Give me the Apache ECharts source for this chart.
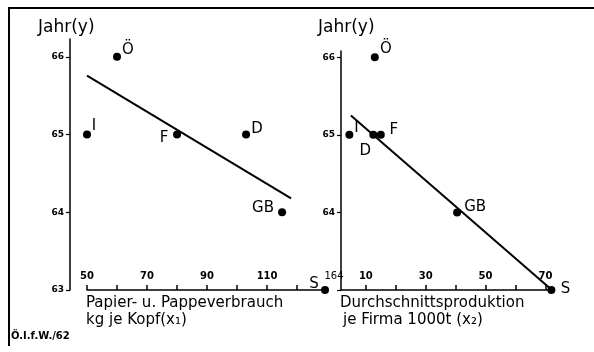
<!DOCTYPE html>
<html>
<head>
<meta charset="utf-8">
<script src="https://cdn.jsdelivr.net/npm/echarts@6/dist/echarts.min.js"></script>
<style>html,body{margin:0;padding:0;background:#fff}#c{width:594px;height:352px}</style>
</head>
<body>
<div id="c"></div>
<script>
// ---- data ----
const countries = ['Ö', 'I', 'F', 'D', 'GB', 'S'];
const years = [66, 65, 65, 65, 64, 63];                 // Jahr (y)
const paperPerHead = [60, 50, 80, 103, 115, 164];      // x1: kg je Kopf
const avgProduction = [13, 4.5, 15, 12.5, 40.5, 72];   // x2: 1000 t je Firma
const x1Ticks = [50, 60, 70, 80, 90, 100, 110, 120];
const x1TickLabels = [50, 70, 90, 110];
const x2Ticks = [10, 20, 30, 40, 50, 60, 70];
const x2TickLabels = [10, 30, 50, 70];
const yTicks = [63, 64, 65, 66];
const yTickLabelsLeft = [63, 64, 65, 66];
const yTickLabelsRight = [64, 65, 66];
const fitLineX1 = [[50, 65.76], [118, 64.18]];
const fitLineX2 = [[5, 65.25], [71.3, 63.03]];
const x1AxisMax = 129.3; // off-scale values are drawn at the axis end

// ---- styles ----
const FONT = 'DejaVu Sans';
const offsX1 = {'Ö':[11,-7], 'I':[7,-8], 'F':[-13,4], 'D':[11,-5], 'GB':[-19,-4], 'S':[-11,-6]};
const offsX2 = {'Ö':[11,-8], 'I':[7,-7], 'F':[13,-5], 'D':[-8,16], 'GB':[18,-5], 'S':[14,-1]};

function pts(xs, clampMax, offs) {
  return countries.map((c, i) => ({
    value: [Math.min(xs[i], clampMax), years[i]],
    label: {
      show: true, position: 'inside', formatter: c, offset: offs[c],
      color: '#000', fontFamily: FONT, fontSize: 15
    }
  }));
}
const offScale = countries.map((c, i) => i).filter(i => paperPerHead[i] > x1AxisMax);

function xAxisCfg(idx, min, max, ticks, labels) {
  return {
    type: 'value', gridIndex: idx, min: min, max: max,
    splitLine: {show: false},
    axisLine: {show: true, onZero: false, lineStyle: {color: '#000', width: 1.5}},
    axisTick: {show: true, inside: true, length: 5, customValues: ticks, lineStyle: {color: '#000', width: 1.5}},
    axisLabel: {inside: true, margin: 9, customValues: labels, color: '#000',
      fontFamily: FONT, fontSize: 10, fontWeight: 'bold'}
  };
}
function yAxisCfg(idx, max, offset, labels) {
  return {
    type: 'value', gridIndex: idx, min: 63, max: max, offset: offset,
    splitLine: {show: false},
    axisLine: {show: true, onZero: false, lineStyle: {color: '#000', width: 1.5}},
    axisTick: {show: true, length: 4, customValues: yTicks, lineStyle: {color: '#000', width: 1.2}},
    axisLabel: {margin: 6, customValues: labels, color: '#000',
      fontFamily: FONT, fontSize: 9, fontWeight: 'bold'}
  };
}

const chart = echarts.init(document.getElementById('c'), null, {renderer: 'canvas'});
chart.setOption({
  animation: false,
  backgroundColor: '#fff',
  grid: [
    {left: 87, top: 39, width: 238, height: 251},
    {left: 341, top: 51, width: 211, height: 239}
  ],
  xAxis: [
    xAxisCfg(0, 50, x1AxisMax, x1Ticks, x1TickLabels),
    xAxisCfg(1, 1.7, 72.2, x2Ticks, x2TickLabels)
  ],
  yAxis: [
    yAxisCfg(0, 66.23, 17, yTickLabelsLeft),
    yAxisCfg(1, 66.08, 0, yTickLabelsRight)
  ],
  series: [
    {type: 'line', xAxisIndex: 0, yAxisIndex: 0, data: fitLineX1, symbol: 'none',
      lineStyle: {color: '#000', width: 2}},
    {type: 'line', xAxisIndex: 1, yAxisIndex: 1, data: fitLineX2, symbol: 'none',
      lineStyle: {color: '#000', width: 2}},
    {type: 'scatter', xAxisIndex: 0, yAxisIndex: 0, symbolSize: 8, z: 5, clip: false,
      itemStyle: {color: '#000', opacity: 1}, data: pts(paperPerHead, x1AxisMax, offsX1)},
    {type: 'scatter', xAxisIndex: 0, yAxisIndex: 0, symbolSize: 1, z: 5, clip: false,
      itemStyle: {color: '#000', opacity: 1},
      data: offScale.map(i => ({
        value: [x1AxisMax, years[i]],
        label: {show: true, position: 'inside', formatter: String(paperPerHead[i]),
          offset: [9, -14], color: '#000', fontFamily: FONT, fontSize: 10}
      }))},
    {type: 'scatter', xAxisIndex: 1, yAxisIndex: 1, symbolSize: 8, z: 5, clip: false,
      itemStyle: {color: '#000', opacity: 1}, data: pts(avgProduction, Infinity, offsX2)}
  ],
  graphic: [
    {type: 'line', shape: {x1: 9, y1: 8, x2: 594, y2: 8}, style: {stroke: '#000', lineWidth: 2}},
    {type: 'line', shape: {x1: 9, y1: 7, x2: 9, y2: 346}, style: {stroke: '#000', lineWidth: 2}},
    {type: 'text', left: 38, top: 19, style: {text: 'Jahr(y)', font: '17px "DejaVu Sans"', fill: '#000'}},
    {type: 'text', left: 318, top: 19, style: {text: 'Jahr(y)', font: '17px "DejaVu Sans"', fill: '#000'}},
    {type: 'text', left: 86, top: 296, style: {text: 'Papier- u. Pappeverbrauch', font: '15px "DejaVu Sans"', fill: '#000'}},
    {type: 'text', left: 86, top: 313, style: {text: 'kg je Kopf(x₁)', font: '15px "DejaVu Sans"', fill: '#000'}},
    {type: 'text', left: 340, top: 296, style: {text: 'Durchschnittsproduktion', font: '15px "DejaVu Sans"', fill: '#000'}},
    {type: 'text', left: 343, top: 313, style: {text: 'je Firma 1000t (x₂)', font: '15px "DejaVu Sans"', fill: '#000'}},
    {type: 'text', left: 11, top: 331, style: {text: 'Ö.I.f.W./62', font: 'bold 10px "DejaVu Sans"', fill: '#000'}}
  ]
});
</script>
</body>
</html>
